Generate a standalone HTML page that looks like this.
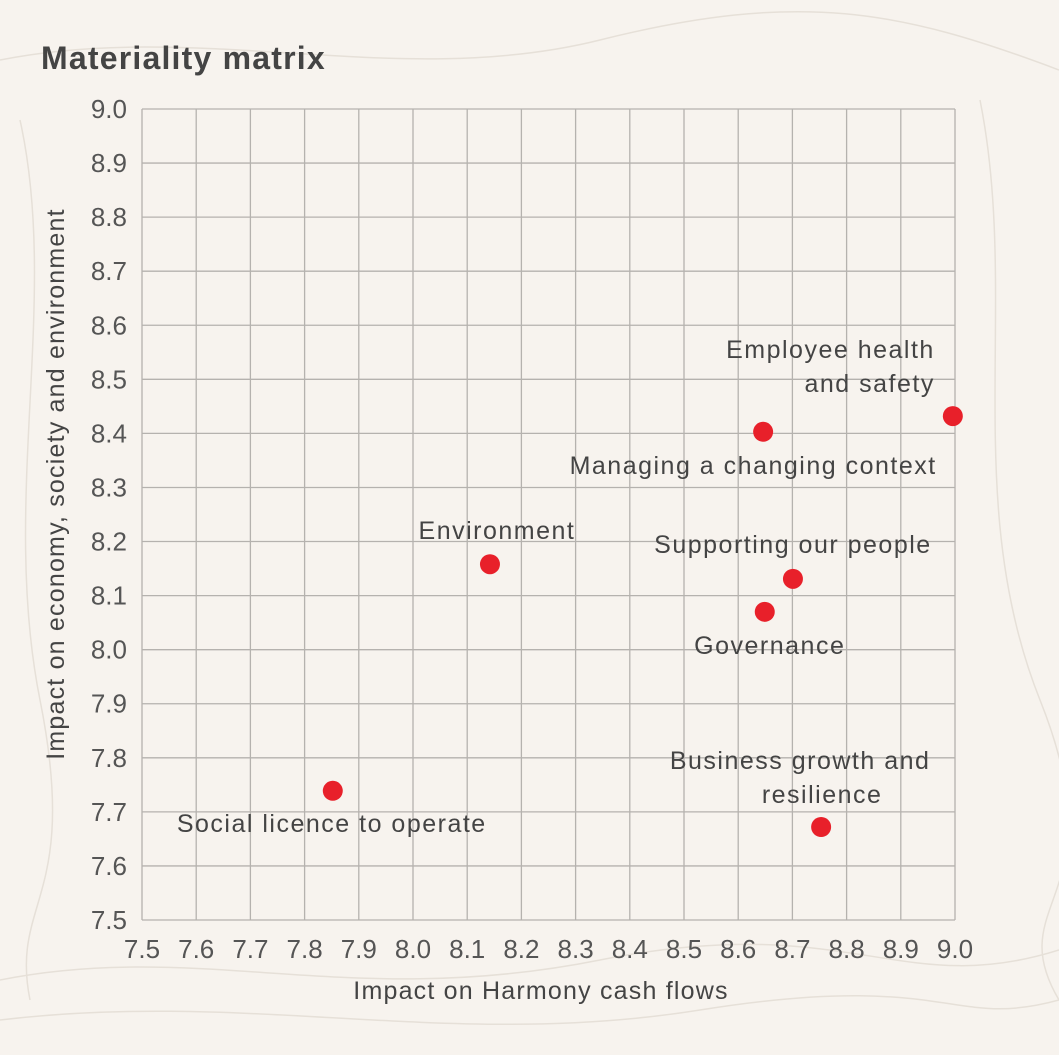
<!DOCTYPE html>
<html><head><meta charset="utf-8"><style>
html,body{margin:0;padding:0;background:#f7f3ee;}
svg{display:block;font-family:"Liberation Sans",sans-serif;}
</style></head><body>
<svg id="chart" width="1059" height="1055" viewBox="0 0 1059 1055">
<rect width="1059" height="1055" fill="#f7f3ee"/>
<g fill="none" stroke="#e6e0d8" stroke-width="1.5">
<path d="M0 60 C200 20 400 90 600 40 S900 10 1059 70"/>
<path d="M0 980 C200 940 350 1010 600 960 S900 1000 1059 950"/>
<path d="M0 1020 C250 990 450 1050 700 1010 S950 1030 1059 1000"/>
<path d="M980 100 C1020 300 960 500 1040 700 S1000 900 1059 1000"/>
<path d="M20 120 C60 300 0 500 40 700 S10 900 30 1000"/>
</g>
<text x="41" y="69" font-size="32" font-weight="bold" fill="#444" letter-spacing="1.2">Materiality matrix</text>
<g id="grid"></g><g id="ticks"></g><g id="points"></g>
<text x="541" y="999" font-size="25" fill="#444" letter-spacing="1.2" text-anchor="middle">Impact on Harmony cash flows</text>
<text transform="translate(64,484) rotate(-90)" font-size="25" fill="#444" letter-spacing="1.2" text-anchor="middle">Impact on economy, society and environment</text>
</svg>
<script>
const ticks=[7.5,7.6,7.7,7.8,7.9,8.0,8.1,8.2,8.3,8.4,8.5,8.6,8.7,8.8,8.9,9.0];
const names=["Employee health and safety","Managing a changing context","Supporting our people","Governance","Environment","Social licence to operate","Business growth and resilience"];
const xVals=[8.996,8.646,8.701,8.649,8.142,7.852,8.753];
const yVals=[8.432,8.403,8.131,8.070,8.158,7.739,7.672];
const labelLines=[["Employee health","and safety"],["Managing a changing context"],["Supporting our people"],["Governance"],["Environment"],["Social licence to operate"],["Business growth and","resilience"]];
const labelDx=[[-18,-18],[-10],[0],[5],[7],[-1],[-21,1]];
const labelDy=[-66,34,-34,34,-33,33,-66];
const labelAnchor=["end","middle","middle","middle","middle","middle","middle"];
const NS="http://www.w3.org/2000/svg";
const X=v=>142+(v-7.5)/1.5*813, Y=v=>920-(v-7.5)/1.5*811;
function mk(t,a,p){const e=document.createElementNS(NS,t);for(const k in a)e.setAttribute(k,a[k]);p.appendChild(e);return e;}
const g=document.getElementById('grid'),tk=document.getElementById('ticks'),pt=document.getElementById('points');
ticks.forEach(t=>{
 let l=mk('line',{x1:X(t),x2:X(t),y1:Y(9),y2:Y(7.5),stroke:'#b5b2ae','stroke-width':1.3},g);
 
 
 l=mk('line',{x1:X(7.5),x2:X(9),y1:Y(t),y2:Y(t),stroke:'#b5b2ae','stroke-width':1.3},g);
 
 
 let s=mk('text',{x:X(t),y:958,'font-size':26,fill:'#555','text-anchor':'middle'},tk);s.textContent=t.toFixed(1);
 
 
 s=mk('text',{x:127,y:Y(t)+9,'font-size':26,fill:'#555','text-anchor':'end'},tk);s.textContent=t.toFixed(1);
 
 
});
names.forEach((n,i)=>{
 const cx=X(xVals[i]),cy=Y(yVals[i]);
 const c=mk('circle',{cx:cx,cy:cy,r:10,fill:'#e8202a'},pt);
 
 
 labelLines[i].forEach((ln,j)=>{
  const t=mk('text',{x:cx+labelDx[i][j],y:cy+labelDy[i]+j*34+8,'font-size':25,'letter-spacing':1.5,fill:'#444','text-anchor':labelAnchor[i]},pt);
  t.textContent=ln;
  
  
 });
});
</script>
</body></html>
